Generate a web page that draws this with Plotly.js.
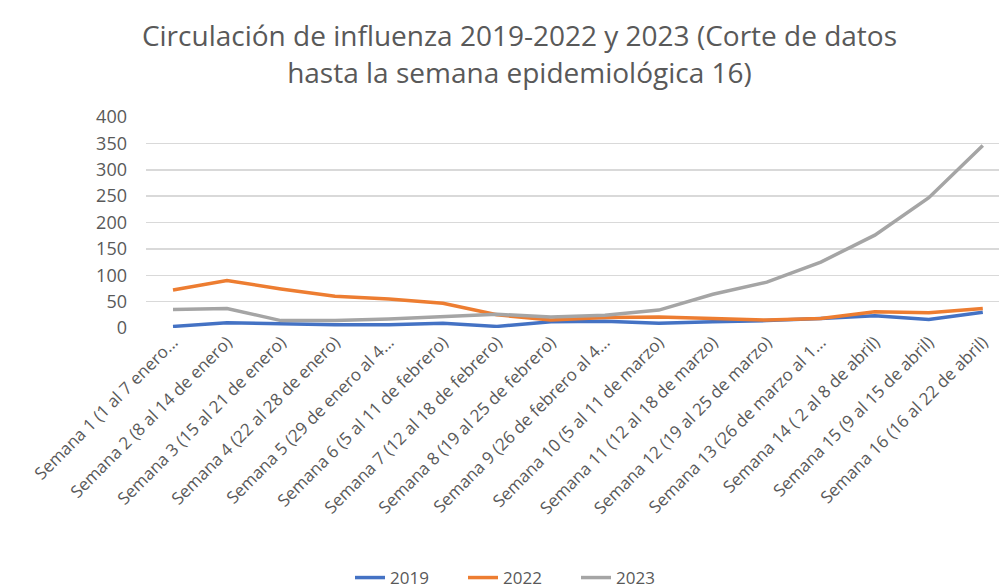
<!DOCTYPE html>
<html>
<head>
<meta charset="utf-8">
<script src="https://cdn.plot.ly/plotly-3.0.1.min.js"></script>
<style>html,body{margin:0;padding:0;background:#fff;}#chart{width:999px;height:588px;}</style>
</head>
<body>
<div id="chart"></div>
<script>
const categories = [
  "Semana 1 (1 al 7 enero...",
  "Semana 2 (8 al 14 de enero)",
  "Semana 3 (15 al 21 de enero)",
  "Semana 4 (22 al 28 de enero)",
  "Semana 5 (29 de enero al 4...",
  "Semana 6 (5 al 11 de febrero)",
  "Semana 7 (12 al 18 de febrero)",
  "Semana 8 (19 al 25 de febrero)",
  "Semana 9 (26 de febrero al 4...",
  "Semana 10 (5 al 11 de marzo)",
  "Semana 11 (12 al 18 de marzo)",
  "Semana 12 (19 al 25 de marzo)",
  "Semana 13 (26 de marzo al 1...",
  "Semana 14 ( 2 al 8 de abril)",
  "Semana 15 (9 al 15 de abril)",
  "Semana 16 (16 al 22 de abril)"
];
const values2019 = [3, 10, 8, 6, 6, 9, 3, 12, 13, 9, 12, 14, 18, 23, 16, 30];
const values2022 = [72, 90, 74, 60, 55, 47, 25, 15, 20, 21, 18, 15, 18, 31, 29, 37];
const values2023 = [35, 37, 14, 14, 17, 21, 26, 21, 24, 34, 64, 87, 125, 176, 247, 346];
const seriesNames = ["2019", "2022", "2023"];
const seriesColors = ["#4472C4", "#ED7D31", "#A5A5A5"];
const yTicks = [0, 50, 100, 150, 200, 250, 300, 350, 400];

const xIdx = categories.map((_, i) => i);
const allValues = [values2019, values2022, values2023];
const traces = allValues.map((v, k) => ({
  type: "scatter",
  mode: "lines",
  name: seriesNames[k],
  x: xIdx,
  y: v,
  line: {color: seriesColors[k], width: 3.5},
  hoverinfo: "x+y+name"
}));

const layout = {
  width: 999,
  height: 588,
  paper_bgcolor: "#ffffff",
  plot_bgcolor: "#ffffff",
  margin: {l: 146, r: 0, t: 117, b: 260},
  font: {family: "Open Sans, sans-serif", color: "#595959"},
  title: {
    text: "Circulación de influenza 2019-2022 y 2023 (Corte de datos<br>hasta la semana epidemiológica 16)",
    font: {size: 28, color: "#595959", family: "Open Sans, sans-serif"},
    x: 0.52,
    xanchor: "center",
    y: 0.921,
    yanchor: "middle"
  },
  xaxis: {
    range: [-0.5, 15.3],
    tickmode: "array",
    tickvals: xIdx,
    ticktext: categories,
    tickangle: -45,
    tickfont: {size: 17, color: "#595959"},
    showgrid: false,
    zeroline: false,
    showline: false,
    ticks: "",
    automargin: false,
    fixedrange: true
  },
  yaxis: {
    range: [0, 400],
    tickmode: "array",
    tickvals: yTicks,
    tickfont: {size: 18, color: "#595959"},
    gridcolor: "#D9D9D9",
    gridwidth: 1.5,
    zeroline: false,
    showline: false,
    ticks: "",
    ticklabelstandoff: 18,
    automargin: false,
    fixedrange: true
  },
  showlegend: true,
  legend: {
    orientation: "h",
    xref: "container",
    yref: "container",
    x: 0.52,
    xanchor: "center",
    y: 0.017,
    yanchor: "middle",
    entrywidth: 68,
    entrywidthmode: "pixels",
    font: {size: 17, color: "#595959"}
  }
};

Plotly.newPlot("chart", traces, layout, {displayModeBar: false, staticPlot: true});
</script>
</body>
</html>
